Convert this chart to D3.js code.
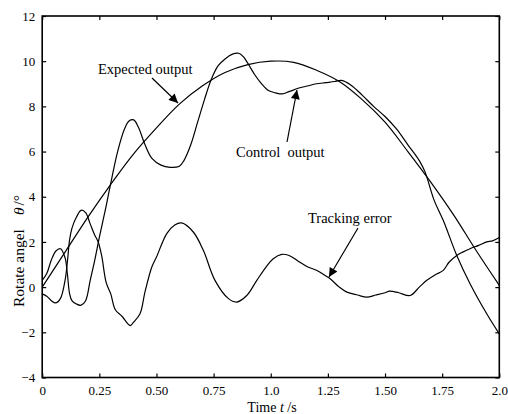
<!DOCTYPE html>
<html><head><meta charset="utf-8">
<script src="https://cdn.jsdelivr.net/npm/d3@7"></script>
<style>
body{margin:0;background:#fff}
svg{display:block}
text{font-family:"Liberation Serif","Times New Roman",serif;fill:#000}
</style>
</head><body>
<svg id="c" width="508" height="414"></svg>
<script>
// ---- data ----
const xTicks = [0, 0.25, 0.5, 0.75, 1.0, 1.25, 1.5, 1.75, 2.0];
const xTickLabels = ["0", "0.25", "0.50", "0.75", "1.0", "1.25", "1.50", "1.75", "2.0"];
const yTicks = [-4, -2, 0, 2, 4, 6, 8, 10, 12];
const yTickLabels = ["\u22124", "\u22122", "0", "2", "4", "6", "8", "10", "12"];

const expectedT = [0, 0.1, 0.2, 0.3, 0.4, 0.5, 0.6, 0.7, 0.8, 0.9, 1.0, 1.1, 1.2, 1.3, 1.4, 1.5, 1.6, 1.7, 1.8, 1.9, 2.0];
const expectedV = [0, 1.55, 3.1, 4.55, 5.9, 7.05, 8.1, 8.9, 9.5, 9.85, 10.0, 9.95, 9.6, 9.1, 8.3, 7.3, 6.0, 4.65, 3.2, 1.6, 0.08];

const controlT = [0, 0.02, 0.04, 0.06, 0.08, 0.10, 0.11, 0.12, 0.13, 0.15, 0.17, 0.19, 0.21, 0.23, 0.25, 0.28, 0.30, 0.33, 0.36, 0.38, 0.40, 0.42, 0.45, 0.48, 0.52, 0.56, 0.60, 0.62, 0.65, 0.68, 0.71, 0.74, 0.77, 0.80, 0.83, 0.86, 0.88, 0.90, 0.93, 0.96, 0.99, 1.02, 1.05, 1.08, 1.12, 1.16, 1.20, 1.24, 1.28, 1.31, 1.35, 1.40, 1.45, 1.50, 1.55, 1.60, 1.65, 1.675, 1.715, 1.755, 1.814, 1.872, 1.945, 2.0];
const controlV = [0.3, 0.6, 1.2, 1.6, 1.7, 1.3, 0.6, -0.3, -0.6, -0.75, -0.8, -0.6, 0.3, 1.2, 2.2, 3.6, 4.6, 6.0, 7.0, 7.35, 7.4, 7.1, 6.3, 5.7, 5.4, 5.3, 5.35, 5.6, 6.3, 7.3, 8.3, 9.2, 9.8, 10.1, 10.3, 10.35, 10.2, 9.9, 9.4, 9.0, 8.7, 8.6, 8.55, 8.65, 8.8, 8.9, 9.0, 9.05, 9.1, 9.15, 8.95, 8.5, 8.0, 7.55, 7.0, 6.3, 5.6, 5.1, 3.84, 2.95, 1.4, 0.15, -1.18, -2.07];

const errorT = [0, 0.02, 0.04, 0.06, 0.08, 0.10, 0.11, 0.12, 0.13, 0.15, 0.17, 0.19, 0.21, 0.23, 0.245, 0.26, 0.28, 0.30, 0.32, 0.35, 0.385, 0.40, 0.428, 0.45, 0.48, 0.50, 0.545, 0.58, 0.61, 0.661, 0.705, 0.756, 0.815, 0.851, 0.895, 0.939, 0.98, 1.011, 1.048, 1.08, 1.12, 1.16, 1.20, 1.24, 1.26, 1.30, 1.333, 1.38, 1.42, 1.46, 1.50, 1.52, 1.56, 1.61, 1.65, 1.683, 1.72, 1.755, 1.78, 1.814, 1.84, 1.872, 1.91, 1.945, 1.97, 2.0];
const errorV = [-0.3, -0.4, -0.6, -0.7, -0.5, 0.3, 1.1, 2.1, 2.6, 3.1, 3.4, 3.3, 2.8, 2.3, 2.0, 1.4, 0.2, -0.3, -1.0, -1.3, -1.7, -1.55, -1.18, -0.2, 0.9, 1.33, 2.37, 2.75, 2.84, 2.44, 1.63, 0.3, -0.51, -0.66, -0.37, 0.3, 0.9, 1.26, 1.45, 1.4, 1.15, 0.9, 0.75, 0.5, 0.37, 0.0, -0.22, -0.35, -0.44, -0.35, -0.25, -0.18, -0.25, -0.37, 0.0, 0.3, 0.55, 0.74, 1.1, 1.4, 1.55, 1.7, 1.85, 2.0, 2.05, 2.2];

const annotations = [
  {text: "Expected output", tx: 98, ty: 74, from: [152, 78], to: [178, 103]},
  {text: "Control\u00a0\u00a0output", tx: 236, ty: 157, from: [287, 142], to: [297, 90]},
  {text: "Tracking error", tx: 308, ty: 223, from: [358, 228], to: [329, 277]}
];

// ---- chart ----
const svg = d3.select("#c");
const L = 42.2, R = 499.3, T = 16, B = 377.5;
const x = d3.scaleLinear().domain([0, 2]).range([L, R]);
const y = d3.scaleLinear().domain([-4, 12]).range([B, T]);

const g = svg.append("g");

function series(ts, vs) { return ts.map((t, i) => [t, vs[i]]); }
const line = d3.line().x(d => x(d[0])).y(d => y(d[1])).curve(d3.curveCatmullRom.alpha(0.5));

[[expectedT, expectedV], [controlT, controlV], [errorT, errorV]].forEach(([ts, vs]) => {
  g.append("path").datum(series(ts, vs)).attr("d", line)
    .attr("fill", "none").attr("stroke", "#000").attr("stroke-width", 1.2).attr("stroke-linejoin", "round");
});

// axes
const xb = svg.append("g").attr("transform", `translate(0,${B})`)
  .call(d3.axisBottom(x).tickValues(xTicks).tickFormat((d, i) => xTickLabels[i]).tickSizeInner(-4).tickSizeOuter(0).tickPadding(8));
const xt = svg.append("g").attr("transform", `translate(0,${T})`)
  .call(d3.axisTop(x).tickValues(xTicks).tickFormat("").tickSizeInner(-4).tickSizeOuter(0));
const yl = svg.append("g").attr("transform", `translate(${L},0)`)
  .call(d3.axisLeft(y).tickValues(yTicks).tickFormat((d, i) => yTickLabels[i]).tickSizeInner(-4).tickSizeOuter(0).tickPadding(7));
const yr = svg.append("g").attr("transform", `translate(${R},0)`)
  .call(d3.axisRight(y).tickValues(yTicks).tickFormat("").tickSizeInner(-4).tickSizeOuter(0));
[xb, xt, yl, yr].forEach(a => {
  a.select(".domain").remove();
  a.selectAll("line").attr("stroke", "#000").attr("stroke-width", 1.2);
  a.selectAll("text").attr("font-family", '"Liberation Serif","Times New Roman",serif').attr("font-size", 13).attr("fill", "#000");
});
svg.append("rect").attr("x", L).attr("y", T).attr("width", R - L).attr("height", B - T)
  .attr("fill", "none").attr("stroke", "#000").attr("stroke-width", 1.6);

// axis titles
const xlab = svg.append("text").attr("x", 272).attr("y", 412).attr("text-anchor", "middle").attr("font-size", 14);
xlab.append("tspan").text("Time ");
xlab.append("tspan").attr("font-style", "italic").text("t");
xlab.append("tspan").text(" /s");

const ylab = svg.append("text").attr("transform", "translate(24,307) rotate(-90)").attr("text-anchor", "start").attr("font-size", 15.5);
ylab.append("tspan").text("Rotate angel");
ylab.append("tspan").attr("dx", 14).attr("font-style", "italic").text("\u03b8");
ylab.append("tspan").attr("dx", 2).text("/\u00b0");

// annotations
svg.append("defs").append("marker").attr("id", "ah").attr("viewBox", "0 0 10 10")
  .attr("refX", 10).attr("refY", 5).attr("markerWidth", 15).attr("markerHeight", 9)
  .attr("markerUnits", "userSpaceOnUse").attr("orient", "auto")
  .append("path").attr("d", "M0,0 L10,5 L0,10 Z").attr("fill", "#000");

annotations.forEach(a => {
  svg.append("text").attr("x", a.tx).attr("y", a.ty).attr("font-size", 14.5).text(a.text);
  svg.append("line").attr("x1", a.from[0]).attr("y1", a.from[1]).attr("x2", a.to[0]).attr("y2", a.to[1])
    .attr("stroke", "#000").attr("stroke-width", 1.2).attr("marker-end", "url(#ah)");
});
</script>
</body></html>
